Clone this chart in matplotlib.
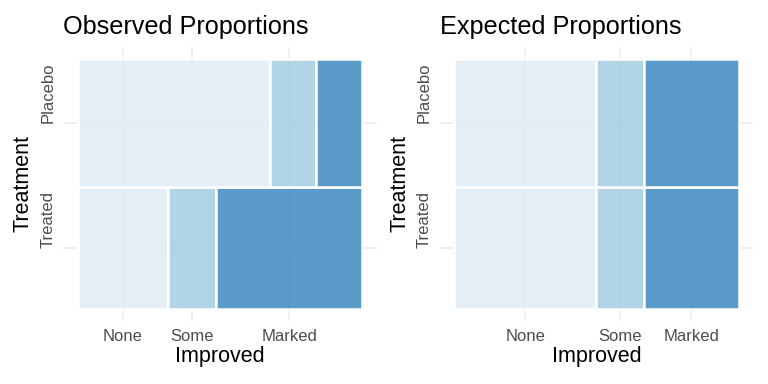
import matplotlib.pyplot as plt
import numpy as np
from matplotlib.patches import Rectangle

plt.rcParams['font.family'] = ['Liberation Sans', 'DejaVu Sans']

treatment = ['Treated', 'Placebo']          # bottom to top
improved = ['None', 'Some', 'Marked']
counts = np.array([[13, 7, 21],             # Treated
                   [29, 7, 7]])             # Placebo
colors = [(0.871, 0.922, 0.969, 0.8),
          (0.620, 0.792, 0.882, 0.8),
          (0.192, 0.510, 0.741, 0.8)]

row_tot = counts.sum(axis=1)
col_tot = counts.sum(axis=0)
row_share = row_tot / row_tot.sum()
observed = counts / row_tot[:, None]
expected = np.tile(col_tot / col_tot.sum(), (len(treatment), 1))

fig = plt.figure(figsize=(7.68, 3.84), dpi=100)
ax1 = fig.add_axes([0.0824, 0.164, 0.408, 0.7144])
ax2 = fig.add_axes([0.5725, 0.164, 0.408, 0.7144])


def mosaic(ax, props, title):
    y0 = 0
    ymid = []
    xmid = None
    for i, t in enumerate(treatment):
        h = row_share[i]
        x0 = 0
        mids = []
        for j in range(len(improved)):
            w = props[i, j]
            ax.add_patch(Rectangle((x0, y0), w, h, facecolor=colors[j],
                                   edgecolor='white', linewidth=1.8, zorder=2))
            mids.append(x0 + w / 2)
            x0 += w
        if i == 0:
            xmid = mids
        ymid.append(y0 + h / 2)
        y0 += h
    ax.set_xlim(-0.05, 1.05)
    ax.set_ylim(-0.05, 1.05)
    ax.set_xticks(xmid)
    ax.set_xticklabels(improved)
    ax.set_yticks(ymid)
    ax.set_yticklabels(treatment, rotation=90, va='bottom')
    ax.tick_params(length=0, labelsize=12, labelcolor='#4d4d4d')
    ax.tick_params(axis='x', pad=5.5)
    ax.tick_params(axis='y', pad=5.5)
    ax.grid(True, color='#ebebeb', linewidth=1.1, zorder=0)
    ax.set_axisbelow(True)
    for s in ax.spines.values():
        s.set_visible(False)
    ax.set_xlabel('Improved', fontsize=15.5, labelpad=2)
    ax.set_ylabel('Treatment', fontsize=15.5, labelpad=5)
    ax.set_title(title, fontsize=18.2, loc='left', pad=9)


mosaic(ax1, observed, 'Observed Proportions')
mosaic(ax2, expected, 'Expected Proportions')

fig.savefig('out.png', dpi=100)
